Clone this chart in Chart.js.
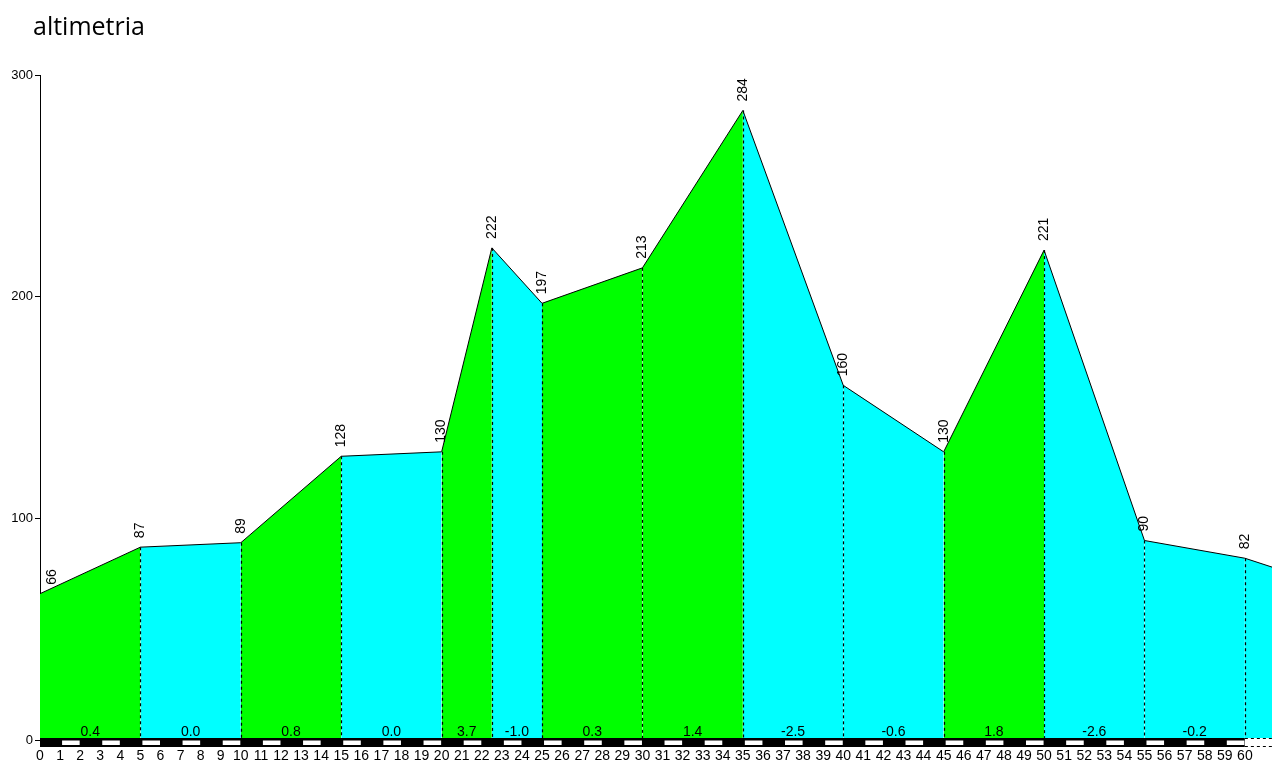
<!DOCTYPE html>
<html>
<head>
<meta charset="utf-8">
<script src="https://cdn.jsdelivr.net/npm/chart.js@4.4.1/dist/chart.umd.min.js"></script>
<style>
  body { margin: 0; background: #fff; }
  #wrap { position: relative; width: 1272px; height: 763px; }
  #title { position: absolute; left: 33px; top: 8px; font: 25px "Open Sans", sans-serif; color: #000; }
</style>
</head>
<body>
<div id="wrap">
  <div id="title">altimetria</div>
  <canvas id="chart" width="1272" height="763"></canvas>
</div>
<script>
// distanze (km) dei punti del profilo
const distances = [0, 5, 10, 15, 20, 22.5, 25, 30, 35, 40, 45, 50, 55, 60, 61.35];
// quote (m)
const elevations = [66, 87, 89, 128, 130, 222, 197, 213, 284, 160, 130, 221, 90, 82, 78];
// pendenze (%) scritte in fondo a ogni tratto
const gradeLabels = ['0.4', '0.0', '0.8', '0.0', '3.7', '-1.0', '0.3', '1.4', '-2.5', '-0.6', '1.8', '-2.6', '-0.2'];
// etichette asse x
const xTicks = Array.from({ length: 61 }, (_, i) => i);
const yTicks = [0, 100, 200, 300];

const GREEN = '#00ff00';
const CYAN = '#00ffff';
const FONT = '"Liberation Sans", Arial, sans-serif';

// un dataset per tratto, cosi' ogni tratto ha il suo colore
const datasets = [];
for (let i = 0; i < distances.length - 1; i++) {
    const g = gradeLabels[i];
    const color = (g !== undefined && parseFloat(g) > 0) ? GREEN : CYAN;
    datasets.push({
        data: [{ x: distances[i], y: elevations[i] }, { x: distances[i + 1], y: elevations[i + 1] }],
        fill: 'origin',
        backgroundColor: color,
        borderColor: '#000',
        borderWidth: 1,
        pointRadius: 0,
        tension: 0
    });
}

// linee tratteggiate, quote, pendenze e barra a strisce
const profilePlugin = {
    id: 'profile',
    afterDatasetsDraw(chart) {
        const ctx = chart.ctx;
        const x = chart.scales.x;
        const y = chart.scales.y;
        const bottom = chart.chartArea.bottom;
        ctx.save();

        // linee verticali tratteggiate
        ctx.strokeStyle = '#000';
        ctx.lineWidth = 1.2;
        ctx.setLineDash([3, 3]);
        for (let i = 1; i < distances.length - 1; i++) {
            const px = Math.round(x.getPixelForValue(distances[i])) + 0.5;
            ctx.beginPath();
            ctx.moveTo(px, y.getPixelForValue(elevations[i]));
            ctx.lineTo(px, bottom);
            ctx.stroke();
        }
        ctx.setLineDash([]);

        // quote ruotate sopra i punti
        ctx.fillStyle = '#000';
        ctx.font = '14px ' + FONT;
        ctx.textAlign = 'left';
        ctx.textBaseline = 'middle';
        for (let i = 0; i < distances.length - 1; i++) {
            let px = x.getPixelForValue(distances[i]);
            if (i === 0) px += 12;
            const py = y.getPixelForValue(elevations[i]) - 9;
            ctx.save();
            ctx.translate(px, py);
            ctx.rotate(-Math.PI / 2);
            ctx.fillText(String(elevations[i]), 0, 0);
            ctx.restore();
        }

        // pendenze
        ctx.textAlign = 'center';
        ctx.textBaseline = 'middle';
        gradeLabels.forEach((g, i) => {
            const px = x.getPixelForValue((distances[i] + distances[i + 1]) / 2);
            ctx.fillText(g, px, bottom - 8);
        });

        // barra chilometrica
        const x0 = x.getPixelForValue(0);
        const x60 = x.getPixelForValue(60);
        ctx.fillStyle = '#000';
        ctx.fillRect(x0, bottom - 2, x60 - x0, 9);
        ctx.fillStyle = '#fff';
        for (let k = 1; k < 60; k += 2) {
            const a = x.getPixelForValue(k);
            const b = x.getPixelForValue(k + 1);
            ctx.fillRect(a + 2, bottom + 0.5, b - a - 2.5, 4.5);
        }
        ctx.fillRect(x60, bottom - 2, chart.width - x60, 9);
        ctx.strokeStyle = '#000';
        ctx.lineWidth = 1;
        ctx.setLineDash([3, 3]);
        ctx.beginPath();
        ctx.moveTo(x60, bottom - 1.5);
        ctx.lineTo(chart.width, bottom - 1.5);
        ctx.moveTo(x60, bottom + 6.5);
        ctx.lineTo(chart.width, bottom + 6.5);
        ctx.stroke();
        ctx.restore();
    }
};

new Chart(document.getElementById('chart'), {
    type: 'line',
    data: { datasets: datasets },
    plugins: [profilePlugin],
    options: {
        responsive: false,
        animation: false,
        layout: { padding: { top: 75, left: 0, right: 0, bottom: 0 } },
        plugins: {
            legend: { display: false },
            tooltip: { enabled: false }
        },
        scales: {
            x: {
                type: 'linear',
                min: 0,
                max: 61.35,
                grid: { display: false, drawTicks: false },
                border: { display: false },
                afterBuildTicks: s => { s.ticks = xTicks.map(v => ({ value: v })); },
                afterFit: s => { s.height = 23; },
                ticks: {
                    autoSkip: false,
                    maxRotation: 0,
                    padding: 8,
                    color: '#000',
                    font: { family: FONT, size: 14 }
                }
            },
            y: {
                min: 0,
                max: 300,
                afterBuildTicks: s => { s.ticks = yTicks.map(v => ({ value: v })); },
                afterFit: s => { s.width = 40; },
                grid: { drawOnChartArea: false, color: '#000', tickLength: 5 },
                border: { display: true, color: '#000', width: 1 },
                ticks: {
                    padding: 2,
                    color: '#000',
                    font: { family: FONT, size: 13 }
                }
            }
        }
    }
});
</script>
</body>
</html>
